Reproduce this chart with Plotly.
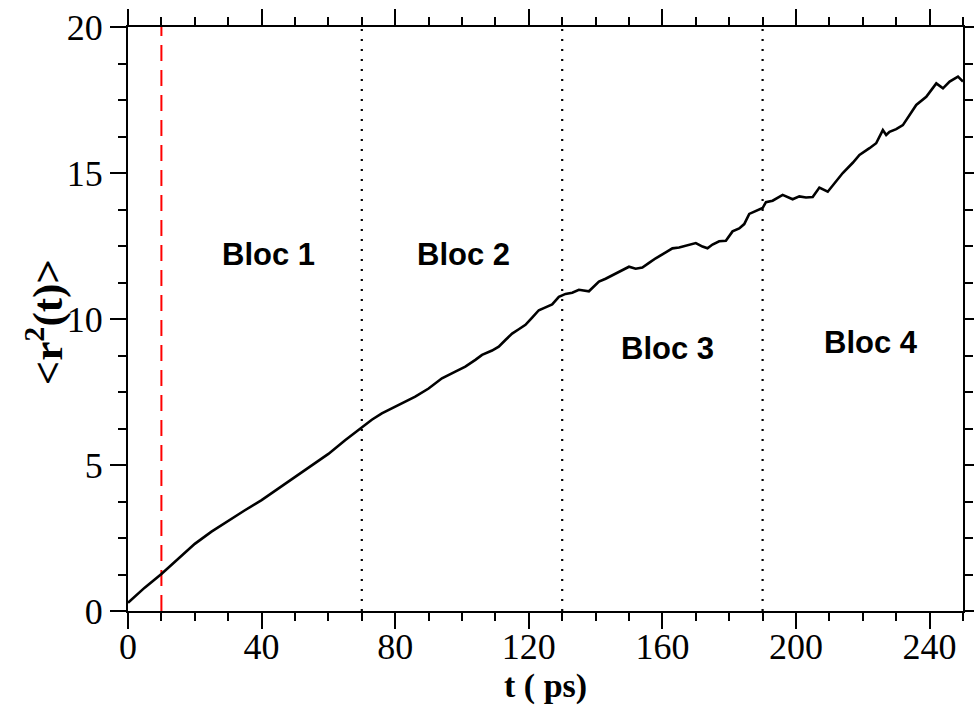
import plotly.graph_objects as go

# ---- data ----
t_ps = [0, 2, 5, 10, 15, 20, 25, 30, 35, 40, 45, 50, 55, 60, 65, 70, 73, 76, 80, 83,
        86, 90, 94, 98, 101, 104, 106, 109, 111, 113, 115, 117, 119, 121, 123, 125,
        127, 129, 131, 133, 135, 138, 141, 143, 145, 148, 150, 152, 154, 156, 158,
        161, 163, 165, 167, 170, 172, 173.5, 175, 177, 179, 181, 183, 184.5, 186,
        188, 190, 191, 193, 196, 199, 201, 203, 205, 207, 209.5, 212, 214, 217, 219,
        222, 224, 226, 227, 228, 230, 232, 234, 236, 239, 242, 244, 246, 248.5, 250]
msd = [0.28, 0.5, 0.8, 1.27, 1.8, 2.3, 2.72, 3.1, 3.45, 3.8, 4.2, 4.58, 5.0, 5.38,
       5.85, 6.28, 6.55, 6.77, 7.0, 7.15, 7.34, 7.62, 7.97, 8.2, 8.37, 8.6, 8.77,
       8.92, 9.05, 9.28, 9.5, 9.65, 9.8, 10.05, 10.3, 10.4, 10.5, 10.76, 10.86, 10.9,
       11.0, 10.95, 11.28, 11.38, 11.5, 11.68, 11.79, 11.72, 11.76, 11.92, 12.08,
       12.28, 12.42, 12.45, 12.5, 12.6, 12.48, 12.42, 12.55, 12.66, 12.68, 13.0,
       13.1, 13.25, 13.6, 13.7, 13.8, 14.0, 14.05, 14.25, 14.1, 14.2, 14.16, 14.18,
       14.5, 14.36, 14.7, 15.0, 15.35, 15.62, 15.85, 16.02, 16.47, 16.3, 16.41, 16.5,
       16.64, 17.0, 17.33, 17.61, 18.07, 17.9, 18.13, 18.3, 18.13]

equil_t = 10
bloc_bounds = [70, 130, 190]
bloc_labels = ["Bloc 1", "Bloc 2", "Bloc 3", "Bloc 4"]
bloc_x = [42, 100.5, 161.5, 222.5]
bloc_y = [12.2, 12.2, 9.0, 9.2]

x_title = "t ( ps)"
y_title = "&lt;r<sup>2</sup>(t)&gt;"

x_range = [0, 250]
y_range = [0, 20]

fig = go.Figure()

# red dashed vertical line
fig.add_trace(go.Scatter(x=[equil_t, equil_t], y=y_range, mode="lines",
                         line=dict(color="#ff0000", width=2, dash="16px,9px"),
                         hoverinfo="skip", showlegend=False))
# dotted block boundaries
for b in bloc_bounds:
    fig.add_trace(go.Scatter(x=[b, b], y=y_range, mode="lines",
                             line=dict(color="black", width=2.2, dash="2px,8px"),
                             hoverinfo="skip", showlegend=False))

fig.add_trace(go.Scatter(x=t_ps, y=msd, mode="lines",
                         line=dict(color="black", width=2.6),
                         showlegend=False))

for lab, bx, by in zip(bloc_labels, bloc_x, bloc_y):
    fig.add_annotation(x=bx, y=by, text=lab, showarrow=False,
                       font=dict(family="Liberation Sans", size=31, color="black",
                                 weight="bold"))

# axis titles as annotations for precise placement
fig.add_annotation(xref="paper", yref="paper", x=0.5, y=-0.129, text=x_title,
                   showarrow=False, xanchor="center", yanchor="middle",
                   font=dict(family="Liberation Serif", size=34, color="black",
                             weight="bold"))
fig.add_annotation(xref="paper", yref="paper", x=-0.099, y=0.495, text=y_title,
                   showarrow=False, xanchor="center", yanchor="middle", textangle=-90,
                   font=dict(family="Liberation Serif", size=43, color="black",
                             weight="bold"))

axis_common = dict(showgrid=False, zeroline=False, showline=True, linecolor="black",
                   linewidth=2, mirror="ticks", ticks="outside", ticklen=16,
                   tickwidth=2, tickcolor="black",
                   tickfont=dict(family="Liberation Serif", size=36, color="black"))

fig.update_xaxes(range=x_range, dtick=40, tick0=0, ticklabelstandoff=-13,
                 minor=dict(dtick=10, ticks="outside", ticklen=8, tickwidth=2,
                            tickcolor="black"),
                 **axis_common)
fig.update_yaxes(range=y_range, dtick=5, tick0=0,
                 minor=dict(dtick=1.25, ticks="outside", ticklen=8, tickwidth=2,
                            tickcolor="black"),
                 **axis_common)

fig.update_layout(width=974, height=706, plot_bgcolor="white", paper_bgcolor="white",
                  margin=dict(l=128, r=11, t=27, b=95, autoexpand=False))

fig.write_html("out.html")
